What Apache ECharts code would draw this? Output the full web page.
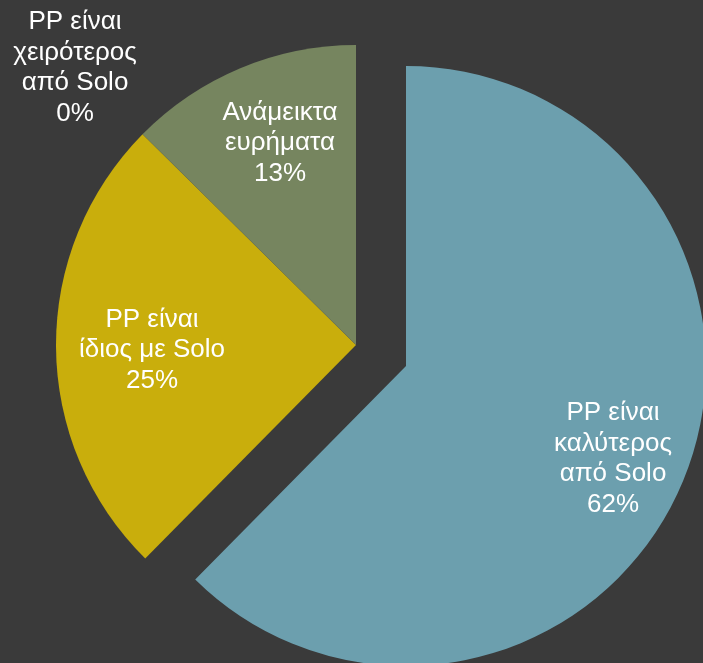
<!DOCTYPE html>
<html>
<head>
<meta charset="utf-8">
<script src="https://cdn.jsdelivr.net/npm/echarts@6/dist/echarts.min.js"></script>
<style>
html,body{margin:0;padding:0;background:#3a3a3a;}
#chart{width:703px;height:663px;}
</style>
</head>
<body>
<div id="chart"></div>
<script>
const categories = ['PP είναι\nκαλύτερος\nαπό Solo', 'PP είναι\nίδιος με Solo', 'Ανάμεικτα\nευρήματα', 'PP είναι\nχειρότερος\nαπό Solo'];
const values = [62.4, 25.0, 12.6, 0];
const colors = ['#6c9fae', '#c9ae0c', '#76855f', '#8a8a8a'];
const exploded = [true, false, false, false];

// label anchor points (layout, not data)
const labelPos = [[613, 459], [152, 350], [280, 143], [75, 68]];
const clear = 'rgba(0,0,0,0)';

const chart = echarts.init(document.getElementById('chart'));
chart.setOption({
  backgroundColor: '#3a3a3a',
  animation: false,
  series: [{
    // exploded slice(s): same scale, center shifted along the slice's mid angle
    type: 'pie',
    center: [406, 366],
    radius: 300,
    startAngle: 90,
    clockwise: true,
    silent: true,
    data: categories.map((c, i) => ({
      name: c,
      value: values[i],
      itemStyle: { color: exploded[i] ? colors[i] : clear }
    })),
    itemStyle: { borderWidth: 0 },
    label: { show: false },
    labelLine: { show: false },
    emphasis: { disabled: true }
  }, {
    type: 'pie',
    center: [356, 345],
    radius: 300,
    startAngle: 90,
    clockwise: true,
    silent: true,
    avoidLabelOverlap: false,
    data: categories.map((c, i) => ({
      name: c,
      value: values[i],
      itemStyle: { color: exploded[i] ? clear : colors[i] }
    })),
    itemStyle: { borderWidth: 0 },
    label: {
      show: true,
      position: 'inside',
      formatter: p => p.name + '\n' + Math.round(p.value) + '%',
      color: '#ffffff',
      fontFamily: 'Liberation Sans, Arial, sans-serif',
      fontSize: 26,
      lineHeight: 30.5,
      align: 'center'
    },
    labelLine: { show: false },
    labelLayout: function (p) {
      const pos = labelPos[p.dataIndex];
      return { x: pos[0], y: pos[1], align: 'center', verticalAlign: 'middle' };
    },
    emphasis: { disabled: true }
  }]
});
</script>
</body>
</html>
